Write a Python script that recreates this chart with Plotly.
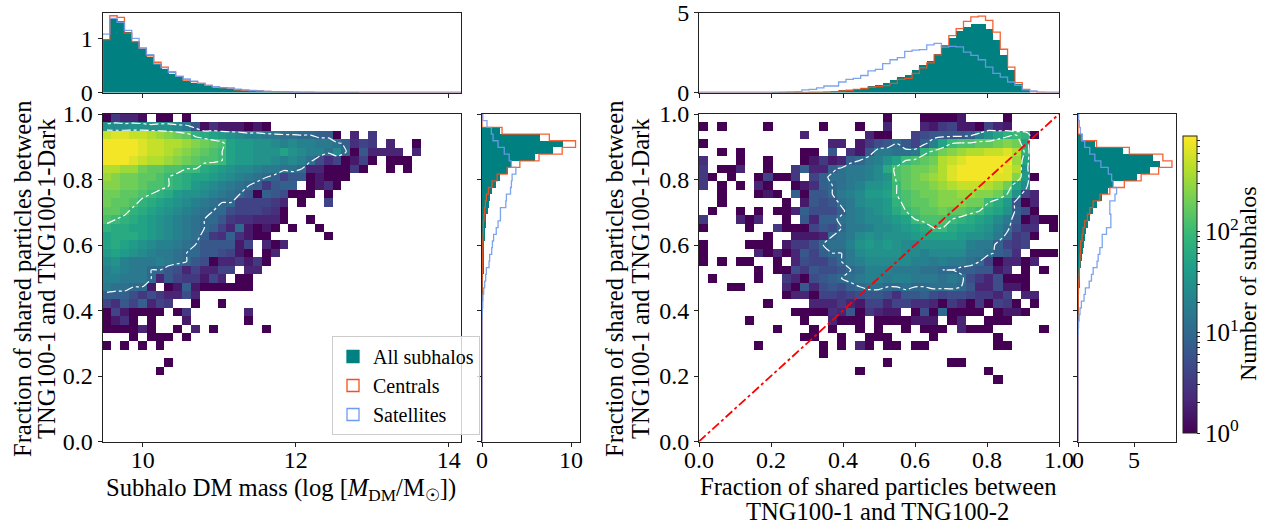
import numpy as np
import plotly.graph_objects as go

W, H = 1270, 525
FONT = "Liberation Serif"

# 2D histogram cells: one character per bin = 10*log10(count) in base 36, "." = empty bin
mass_rows = [
"05331.00.0 .......... .......... ..........",
"feefffffec 814222020. .......... ..........",
"rssrrqponm jihgfeddcc bbaa990.3. 5.........",
"ttttsrrqqp onmlhggffe deddccb946 5.3..0....",
"ttttsrrqpo nmlkhggfff hfeddbea08 3333.3....",
"tttsrqqpon mllkhggffe dedb746026 0.000.....",
"qqppnmmllk kihgfeedcc bba3300050 ..0.0.....",
"ponnmmlkji hhgfedcba9 68802000.. ..........",
"oonnmllkji gfedcba958 99.0240... ..........",
"nnmmlkjigf fedcba8098 7000.0.... ..........",
"nmmljihgfe dcbaa66665 3.0..6.... ..........",
"mmljihgfed cbaa766654 0......... ..........",
"lkjihgfedc baa8544333 0..0...... ..........",
"jiihhgfedc ba963a2020 .0..0..... ..........",
"hiiihgfedc b954942 00 ......0... ..........",
"hihgfeddcb a888826.30 3......... ..........",
"ghgfedccba a887620.03 .......... ..........",
"efdcccdcba 8703352 50. .......... ..........",
"dedccaa873 6336 6.33. .......... ..........",
"ddccca3865 5263.00... .......... ..........",
"cbbaa2.029 2000000... .......... ..........",
"9997575337 3......... .......... ..........",
"64869365.. 0..0...... .......... ..........",
"0620000.05 ......3... .......... ..........",
"0240.0...2 ......0... .......... ..........",
"000030..0. 3.0.....0. .......... ..........",
"...0.000.0 .......... .......... ..........",
"0.0.0.0... .......... .......... ..........",
".......... .......... .......... ..........",
".......0.. .......... .......... ..........",
"......0... .......... .......... ..........",
]

fraction_rows = [
".......... .......... 0...00002. ...0......",
"0.0....0.. ...0...0.. 3...325622 0632......",
".......... .3......30 0..6788889 dfhjkj0...",
"0......... ....33.257 8a869dhkll mmnonh....",
"..0.0..... .00.8.428c cbbcjlnopq qrrsqj....",
"4...0..0.. .025239acd fhklmnqrst ttttph....",
"5.003..0.. 59339bccde ilmnnoqstt tttsqf....",
"50.0..0600 5.69bbccde flmnopqstt ttssog0...",
"5.0.0.30.. 0249abcdff gkmnnopqrr rqpnhe....",
"..0...020. 9088acdegg hklmnnoopp oonkf63...",
"..0......0 .2878bceff gjlmmnooon nkig803...",
".0..0.0.00 397779cdef giklmmnmml kihf970...",
"5...303..0 .8399bcdee fghklllkji hgec80300.",
"0....0..50 00687accde efghikkihh gfdb744.0.",
".......0.. 2223abcefe fffghhhhgf fec9560...",
"0....000.2 557abbdfgf gfeefffffd cc9656....",
"0.....3030 3869aaceff ffeedeeeec cb984.000.",
"0.0.00..0. 37668acdee eeeddcdccb a603303...",
"......0.00 758778abdd dcccbbaa99 8824.0.0..",
".0....0..5 30789abcdd cddcccbcb7 537000....",
"...00....3 0837879abb aabaabbba8 337220....",
".........0 3306656788 7488976776 5536.33...",
".......0.. ..33353266 3664430530 50650.0...",
".......... 0000438053 22.070a000 0.0220....",
".....0.... .0..3000.0 000222.03. .000......",
"........0. ..0.0..0.0 ..0.000.30 00.....0..",
".......... .00..0..00 0....0.... ..0.......",
"......0... ...0.0.30. 00.00..... ..00......",
".......... ...0...... .......... ..........",
".......... .......... 0......00. ..........",
".......... .......0.. .......... .0........",
".......... .......... .......... ..0.......",
]

# One-dimensional normalised histograms, 49 bins each
mass_all = [1.0,1.375,1.33,1.12,.95,.82,.67,.53,.44,.36,.30,.22,.19,.17,.13,.10,.09,.07,.05,.035,.03,.03,.02,.015,.012,.01,.008,.006,.005,.004,.003,.002,.002,.001,.001]
mass_cen = [.98,1.42,1.39,1.10,.94,.82,.68,.56,.47,.38,.30,.23,.20,.17,.13,.10,.09,.08,.05,.04,.03,.03,.02,.015,.012,.01,.008,.006,.005,.004,.003,.002,.002,.001,.001]
mass_sat = [1.08,1.37,1.30,1.15,1.0,.82,.70,.53,.46,.37,.30,.25,.21,.17,.13,.11,.09,.08,.06,.05,.04,.03,.02,.015,.01,.008,.005,.004,.003,.002,.001]

frac2_all = [0]*10+[.005,.005,.01,.01,.02,.03,.04,.06,.12,.2,.2,.27,.33,.45,.5,.62,.8,.99,1.13,1.44,1.75,2.0,2.47,3.0,3.44,3.88,4.16,4.33,4.33,4.04,3.36,2.41,1.46,.58,.16]
frac2_cen = [0]*12+[.005,.01,.01,.015,.02,.03,.05,.1,.14,.2,.25,.33,.37,.43,.58,.82,.89,1.2,1.55,1.86,2.37,2.95,3.57,4.02,4.47,4.76,4.8,4.54,3.8,2.72,1.59,.62,.2,.04]
frac2_sat = [0]*11+[.02,.04,.06,.16,.2,.29,.41,.41,.66,.82,.89,1.07,1.36,1.46,1.81,2.06,2.19,2.58,2.66,2.7,3.0,3.09,2.85,2.9,2.87,2.54,2.33,2.06,1.59,1.2,.97,.66,.45,.16,.1,.02]

side1_all = [0,0,2.0,6.5,9.06,7.93,5.94,3.2,2.93,2.07,1.54,1.17,.86,.79,.68,.49,.49,.38,.38,.26,.26,.15,.15,.15,.04,.04,.02,.01]
side1_cen = [0,0,2.25,7.56,10.5,9.0,6.4,4.25,2.82,1.7,1.13,.71,.49,.38,.3,.23,.15,.15,.11,.08,.08,.06,.05,.04,.03,.02,.01]
side1_sat = [.1,.56,1.05,1.24,1.8,2.5,3.05,3.3,3.8,3.38,3.3,3.2,2.74,2.67,2.07,2.07,1.8,1.6,1.3,1.17,1.09,.86,.79,.49,.41,.3,.19,.11,.08,.04,.02]

side2_all = [0,0,0,.3,1.5,4.04,6.65,7.34,6.44,5.24,3.14,2.7,2.16,1.65,1.35,1.1,.9,.75,.66,.54,.48,.39,.3,.21,.15,.12,.08,.05,.03,.02,.01]
side2_cen = [0,0,0,.3,1.65,4.58,7.57,8.38,7.19,5.63,4.13,2.84,1.95,1.35,1.05,.84,.6,.45,.36,.24,.21,.18,.15,.12,.09,.06,.04,.03,.02,.01]
side2_sat = [.06,.12,.21,.39,.6,1.05,1.5,2.04,2.7,3.0,3.14,3.44,3.3,2.84,2.84,2.93,2.93,2.54,2.16,2.16,1.95,1.8,1.7,1.35,1.2,1.0,.66,.54,.3,.18,.1,.05,.02]

mass_ticks = [10, 12, 14]
unit_ticks = [0.0, 0.2, 0.4, 0.6, 0.8, 1.0]
unit_labels = ["0.0", "0.2", "0.4", "0.6", "0.8", "1.0"]
legend_names = ["All subhalos", "Centrals", "Satellites"]
cbar_ticks = [0, 1, 2]
cbar_labels = ["10<sup>0</sup>", "10<sup>1</sup>", "10<sup>2</sup>"]
cbar_minor = [2, 3, 4, 5, 6, 7, 8, 9]
contour_levels = [1, 2]

TEAL, ORANGE, BLUE = "#008080", "#f4511e", "#6f9bee"
MASS_RANGE = [9.475, 14.16]
CMAX = 2.95
X_STEP = {"mass": 0.1158, "frac": 0.02555}
Y_STEP = 0.02574


def decode(rows):
    out = np.full((40, 40), np.nan)
    for r, row in enumerate(rows):
        row = row.replace(" ", "")
        for c, ch in enumerate(row[:40]):
            if ch != ".":
                out[r, c] = int(ch, 36) / 10
    return out


def pad(vals):
    return list(vals) + [0] * (49 - len(vals))


fx = lambda px: px / W
fy = lambda py: 1 - py / H

fig = go.Figure()
MAIN_Y = (441.5, 114)
TOP_Y = (92.5, 12.5)


def dom(a, b):
    return [fx(a), fx(b)]


def domy(a, b):
    return [fy(a), fy(b)]


def add_map(z, x0, step, xa, ya):
    xe = x0 + step * np.arange(41)
    ye = 1 - Y_STEP * np.arange(41)
    fig.add_trace(go.Heatmap(z=z, x=xe, y=ye, coloraxis="coloraxis", xaxis=xa, yaxis=ya,
                             zsmooth=False, hoverongaps=False, showlegend=False))
    xc = (xe[:-1] + xe[1:]) / 2
    yc = (ye[:-1] + ye[1:]) / 2
    fig.add_trace(go.Contour(z=np.nan_to_num(z, nan=-0.5), x=xc, y=yc, xaxis=xa, yaxis=ya, showscale=False,
                             autocontour=False, showlegend=False,
                             contours=dict(start=contour_levels[0], end=contour_levels[1], size=1, coloring="none"),
                             line=dict(color="white", width=1.2, dash="dashdot", smoothing=0.6),
                             hoverinfo="skip"))


def step_line(vals, edges, color, xa, ya, horizontal=False):
    a = [edges[0]] + list(edges)
    b = [0] + list(vals) + [0]
    if horizontal:
        t = go.Scatter(x=b, y=a, line_shape="vh")
    else:
        t = go.Scatter(x=a, y=b, line_shape="hv")
    t.update(mode="lines", line=dict(color=color, width=1.3), opacity=0.9, showlegend=False, xaxis=xa, yaxis=ya)
    fig.add_trace(t)


def hist(all_v, cen, sat, edges, xa, ya, horizontal=False):
    all_v, cen, sat = pad(all_v), pad(cen), pad(sat)
    mids = (edges[:-1] + edges[1:]) / 2
    wid = np.abs(edges[1:] - edges[:-1])
    if horizontal:
        fig.add_trace(go.Bar(x=all_v, y=mids, width=wid, orientation="h", marker=dict(color=TEAL, line_width=0),
                             showlegend=False, xaxis=xa, yaxis=ya))
    else:
        fig.add_trace(go.Bar(x=mids, y=all_v, width=wid, marker=dict(color=TEAL, line_width=0),
                             showlegend=False, xaxis=xa, yaxis=ya))
    step_line(cen, edges, ORANGE, xa, ya, horizontal)
    step_line(sat, edges, BLUE, xa, ya, horizontal)


add_map(decode(mass_rows), MASS_RANGE[0], X_STEP["mass"], "x", "y")
add_map(decode(fraction_rows), 0.0, X_STEP["frac"], "x4", "y4")

mass_edges = np.linspace(MASS_RANGE[0], MASS_RANGE[1], 50)
unit_edges = np.linspace(0, 1, 50)
down_edges = np.linspace(1, 0, 50)
hist(mass_all, mass_cen, mass_sat, mass_edges, "x2", "y2")
hist(side1_all, side1_cen, side1_sat, down_edges, "x3", "y3", True)
hist(frac2_all, frac2_cen, frac2_sat, unit_edges, "x5", "y5")
hist(side2_all, side2_cen, side2_sat, down_edges, "x6", "y6", True)

fig.add_trace(go.Scatter(x=[0, 1], y=[0, 1], mode="lines", xaxis="x4", yaxis="y4", showlegend=False,
                         line=dict(color="red", width=1.8, dash="dashdot")))

# legend keys
for name, fill, edge in zip(legend_names, [TEAL, "rgba(0,0,0,0)", "rgba(0,0,0,0)"], [TEAL, ORANGE, BLUE]):
    fig.add_trace(go.Bar(x=[None], y=[None], name=name, xaxis="x", yaxis="y",
                         marker=dict(color=fill, line=dict(color=edge, width=1.3))))

ax = dict(showline=True, mirror=True, linecolor="#222", linewidth=1, ticks="outside", ticklen=4, tickwidth=1,
          tickcolor="#222", showgrid=False, zeroline=False, tickfont=dict(family=FONT, size=24, color="black"))
low = dict(ticklabelstandoff=-7)

minor_vals = [np.log10(m * d) for d in (1, 10, 100) for m in cbar_minor if np.log10(m * d) <= CMAX]

layout = dict(
    width=W, height=H, margin=dict(l=0, r=0, t=0, b=0, autoexpand=False), paper_bgcolor="white", plot_bgcolor="white",
    font=dict(family=FONT, size=24, color="black"), barmode="overlay", bargap=0,
    coloraxis=dict(colorscale="Viridis", cmin=0, cmax=CMAX,
                   colorbar=dict(x=fx(1183), xanchor="left", xpad=0, ypad=0, thickness=14,
                                 y=fy(433), yanchor="bottom", len=297, lenmode="pixels",
                                 outlinecolor="#222", outlinewidth=1,
                                 tickmode="array",
                                 tickvals=cbar_ticks + minor_vals,
                                 ticktext=cbar_labels + [""] * len(minor_vals),
                                 ticks="outside", ticklen=3, tickcolor="#222",
                                 tickfont=dict(family=FONT, size=25, color="black"))),
    legend=dict(x=fx(332), y=fy(336), xanchor="left", yanchor="top", bgcolor="rgba(255,255,255,0.8)",
                bordercolor="#ccc", borderwidth=1, font=dict(family=FONT, size=20, color="black"),
                itemwidth=30, tracegroupgap=0, traceorder="normal"),
    xaxis=dict(ax, **low, domain=dom(102.5, 461), range=MASS_RANGE, tickvals=mass_ticks, anchor="y"),
    yaxis=dict(ax, domain=domy(*MAIN_Y), range=[0, 1], tickvals=unit_ticks, ticktext=unit_labels, anchor="x"),
    xaxis2=dict(ax, domain=dom(102.5, 461), range=MASS_RANGE, tickvals=mass_ticks, showticklabels=False, anchor="y2"),
    yaxis2=dict(ax, domain=domy(*TOP_Y), range=[0, 1.48], tickvals=[0, 1], anchor="x2"),
    xaxis3=dict(ax, **low, domain=dom(482, 580), range=[0, 11], tickvals=[0, 10], anchor="y3"),
    yaxis3=dict(ax, domain=domy(*MAIN_Y), range=[0, 1], tickvals=unit_ticks, showticklabels=False, anchor="x3"),
    xaxis4=dict(ax, **low, domain=dom(699, 1059), range=[0, 1], tickvals=unit_ticks, ticktext=unit_labels, anchor="y4"),
    yaxis4=dict(ax, domain=domy(*MAIN_Y), range=[0, 1], tickvals=unit_ticks, ticktext=unit_labels, anchor="x4"),
    xaxis5=dict(ax, domain=dom(699, 1059), range=[0, 1], tickvals=unit_ticks, showticklabels=False, anchor="y5"),
    yaxis5=dict(ax, domain=domy(*TOP_Y), range=[0, 5.03], tickvals=[0, 5], anchor="x5"),
    xaxis6=dict(ax, **low, domain=dom(1078, 1176), range=[0, 8.74], tickvals=[0, 5], anchor="y6"),
    yaxis6=dict(ax, domain=domy(*MAIN_Y), range=[0, 1], tickvals=unit_ticks, showticklabels=False, anchor="x6"),
)
fig.update_layout(**layout)


def label(text, px, py, angle=0, size=24.6):
    fig.add_annotation(text=text, x=fx(px), y=fy(py), xref="paper", yref="paper", textangle=angle,
                       xanchor="center", yanchor="middle", showarrow=False,
                       font=dict(family=FONT, size=size, color="black"))


for px in (22, 614):
    label("Fraction of shared particles between", px, 279, -90)
for px in (46, 640):
    label("TNG100-1 and TNG100-1-Dark", px, 279, -90)
label("Subhalo DM mass (log [<i>M</i><sub>DM</sub>/M<sub>☉</sub>])", 281, 489)
label("Fraction of shared particles between", 878, 486)
label("TNG100-1 and TNG100-2", 878, 511)
label("Number of subhalos", 1248, 284, -90, 24)

# white colourbar marks at the two contour levels
for lev, dash in zip(contour_levels, ["dashdot", "solid"]):
    py = 433 - 297 * lev / CMAX
    fig.add_shape(type="line", xref="paper", yref="paper", x0=fx(1183), x1=fx(1197), y0=fy(py), y1=fy(py),
                  line=dict(color="white", width=1.2, dash=dash))

fig.write_html("out.html", config={"displayModeBar": False},
               post_script="document.body.style.margin='0';document.body.style.overflow='hidden';")
